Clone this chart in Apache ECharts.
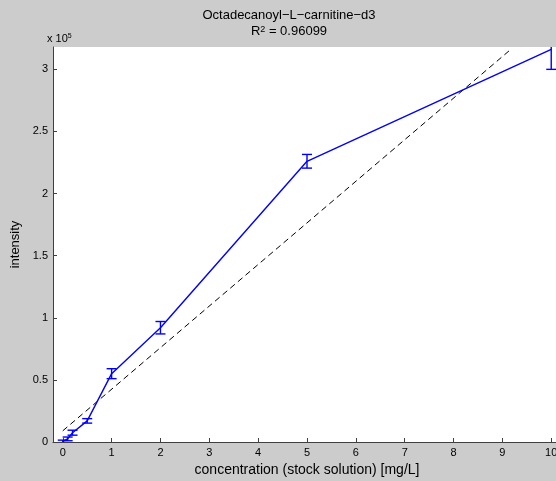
<!DOCTYPE html>
<html>
<head>
<meta charset="UTF-8">
<title></title>
<style>
  html, body { margin: 0; padding: 0; background: #cccccc; }
  #container { width: 556px; height: 481px; }
</style>
</head>
<body>
<div id="container"></div>
<script src="https://cdn.jsdelivr.net/npm/echarts@6/dist/echarts.min.js"></script>
<script>
// concentration [mg/L]
var conc = [0, 0.1, 0.2, 0.5, 1, 2, 5, 10];
// mean intensity and error half-width
var intensity = [500, 2500, 7500, 17000, 55000, 92000, 226000, 316000];
var errHalf = [1000, 1500, 2000, 1800, 4000, 5000, 5500, 16000];
// linear fit end points
var fitX = [0, 9.14];
var fitY = [9000, 315000];
var xTicks = [0, 1, 2, 3, 4, 5, 6, 7, 8, 9, 10];
var yTicks = [0, 50000, 100000, 150000, 200000, 250000, 300000];

var chart = echarts.init(document.getElementById('container'));

var lineData = conc.map(function (x, i) { return [x, intensity[i]]; });
var errData = conc.map(function (x, i) { return [x, intensity[i] - errHalf[i], intensity[i] + errHalf[i]]; });
var fitData = fitX.map(function (x, i) { return [x, fitY[i]]; });

var font = 'Liberation Sans, Arial, sans-serif';

chart.setOption({
    backgroundColor: '#cccccc',
    animation: false,
    grid: { left: 53, top: 47, width: 508, height: 395, show: true, backgroundColor: '#ffffff', borderWidth: 0,
        outerBoundsMode: 'none', containLabel: false },
    graphic: [
        { type: 'text', x: 289, y: 9, style: { text: 'Octadecanoyl\u2212L\u2212carnitine\u2212d3', textAlign: 'center', font: '13px ' + font, fill: '#000' } },
        { type: 'text', x: 289, y: 25, style: { text: 'R{s|2} = 0.96099', textAlign: 'center', font: '13px ' + font, fill: '#000',
            rich: { s: { fontSize: 9, verticalAlign: 'top', lineHeight: 8, fontFamily: font } } } },
        { type: 'text', x: 47, y: 33, style: { text: 'x 10{s|5}', font: '11px ' + font, fill: '#000',
            rich: { s: { fontSize: 7, verticalAlign: 'top', lineHeight: 6, fontFamily: font } } } }
    ],
    xAxis: {
        type: 'value', min: -0.2, max: 10.2,
        name: 'concentration (stock solution) [mg/L]', nameLocation: 'middle', nameGap: 18,
        nameTextStyle: { fontSize: 14, color: '#000', fontFamily: font },
        axisLine: { onZero: false, lineStyle: { color: '#404040', width: 1 } },
        axisTick: { inside: true, length: 4, customValues: xTicks, lineStyle: { color: '#404040' } },
        axisLabel: { customValues: xTicks, fontSize: 11, color: '#000', fontFamily: font, margin: 5 },
        splitLine: { show: false }
    },
    yAxis: {
        type: 'value', min: 0, max: 318000,
        name: 'intensity', nameLocation: 'middle', nameGap: 31,
        nameTextStyle: { fontSize: 13, color: '#000', fontFamily: font },
        axisLine: { onZero: false, lineStyle: { color: '#404040', width: 1 } },
        axisTick: { inside: true, length: 4, customValues: yTicks, lineStyle: { color: '#404040' } },
        axisLabel: { customValues: yTicks, fontSize: 11, color: '#000', fontFamily: font, margin: 5,
            formatter: function (v) { return String(v / 100000); } },
        splitLine: { show: false }
    },
    series: [
        {
            type: 'line', data: fitData, symbol: 'none', silent: true,
            lineStyle: { color: '#000', width: 1, type: [6, 4] }
        },
        {
            type: 'line', data: lineData, symbol: 'none', silent: true,
            lineStyle: { color: '#0000ff', width: 1.4 }
        },
        {
            type: 'custom', data: errData, clip: true, silent: true,
            renderItem: function (params, api) {
                var x = api.value(0);
                var lo = api.coord([x, api.value(1)]);
                var hi = api.coord([x, api.value(2)]);
                var w = 5;
                var st = { stroke: '#0000ff', lineWidth: 1.4 };
                return {
                    type: 'group',
                    children: [
                        { type: 'line', shape: { x1: lo[0], y1: lo[1], x2: hi[0], y2: hi[1] }, style: st },
                        { type: 'line', shape: { x1: lo[0] - w, y1: lo[1], x2: lo[0] + w, y2: lo[1] }, style: st },
                        { type: 'line', shape: { x1: hi[0] - w, y1: hi[1], x2: hi[0] + w, y2: hi[1] }, style: st }
                    ]
                };
            }
        }
    ]
});
</script>
</body>
</html>
